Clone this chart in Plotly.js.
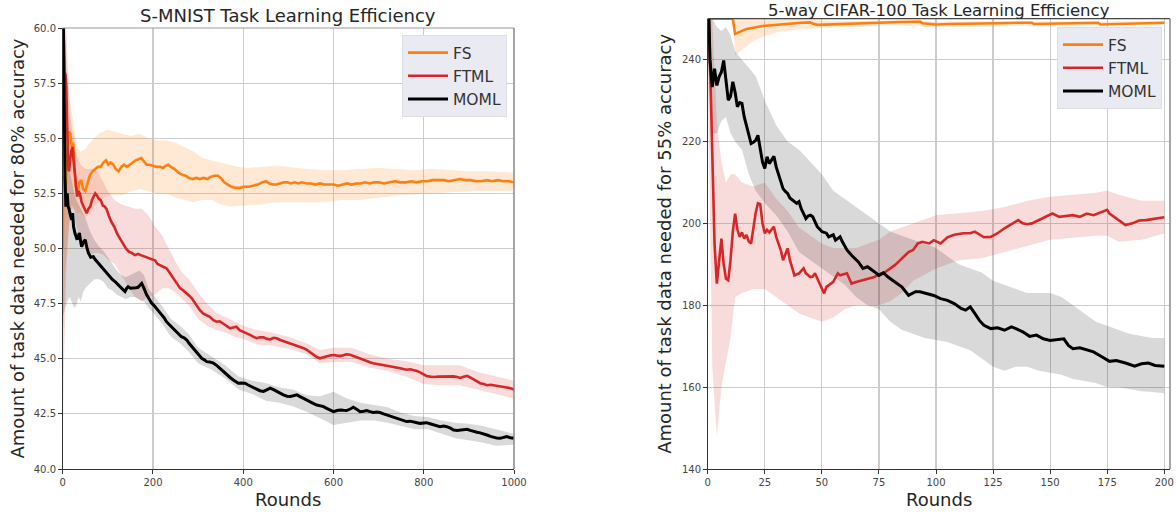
<!DOCTYPE html>
<html><head><meta charset="utf-8">
<script src="https://cdn.plot.ly/plotly-3.0.1.min.js"></script>
<style>html,body{margin:0;padding:0;background:#fff}#chart{width:1176px;height:512px}</style>
</head><body><div id="chart"></div>
<script>
// ---------- S-MNIST (left) ----------
const lfsX = [0,2,5,9,13,17,20,23,26,29,33,37,41,45,50,55,60,66,72,78,84,90,96,101,106,112,118,124,130,136,142,148,155,162,168,174,180,186,193,200,208,216,222,228,234,240,248,256,264,272,280,288,296,304,312,320,328,336,344,350,358,366,374,382,392,402,412,422,432,442,450,458,466,474,482,490,498,506,514,522,530,540,550,560,570,580,590,600,610,620,630,640,650,660,670,680,690,700,712,724,736,748,760,772,784,796,808,820,832,844,856,868,880,892,904,916,928,940,952,964,976,988,1000];
const lfsY = [50.0,53.3,52.2,53.8,55.3,55.2,54.6,54.8,53.6,52.8,52.5,53.0,53.1,52.7,52.6,52.9,53.3,53.5,53.6,53.7,53.7,53.9,54.0,53.8,53.9,53.8,53.6,53.5,53.7,53.8,53.7,53.8,53.9,54.0,54.05,54.1,53.95,53.8,53.8,53.75,53.7,53.7,53.65,53.75,53.8,53.7,53.6,53.45,53.35,53.3,53.2,53.15,53.2,53.15,53.2,53.15,53.25,53.3,53.3,53.2,53.0,52.9,52.8,52.75,52.75,52.8,52.8,52.85,52.9,53.0,53.05,52.95,52.9,52.9,52.95,53.0,53.0,52.95,53.0,52.95,53.0,52.95,52.95,52.9,52.95,52.9,52.9,52.9,52.85,52.9,52.95,52.9,52.95,52.95,53.0,52.95,53.0,53.0,52.95,53.0,53.05,53.0,53.0,53.05,53.0,53.05,53.05,53.1,53.1,53.1,53.05,53.1,53.15,53.1,53.1,53.05,53.05,53.1,53.05,53.1,53.05,53.05,53.0];
const lfsBX = [0,2,5,9,14,20,26,32,40,50,60,70,80,90,100,115,130,150,170,190,210,230,250,270,290,310,330,350,370,390,410,440,470,500,540,580,620,660,700,740,780,820,860,900,940,980,1000];
const lfsUp = [60.5,60.5,60,58,57,56.2,55.4,54.6,54.4,54.5,54.8,55.0,55.2,55.3,55.4,55.3,55.2,55.1,55.2,55.0,54.9,54.9,54.8,54.6,54.4,54.1,54.0,53.9,53.8,53.7,53.65,53.7,53.75,53.7,53.6,53.55,53.55,53.6,53.65,53.6,53.55,53.6,53.55,53.5,53.5,53.45,53.45];
const lfsLo = [47,47,49,50,51,51.8,51.8,51.6,51.6,51.4,51.6,51.9,52.1,52.3,52.4,52.4,52.4,52.6,52.7,52.6,52.5,52.5,52.3,52.2,52.1,52.2,52.2,52.0,51.9,51.9,51.95,52.0,52.1,52.1,52.1,52.1,52.2,52.2,52.3,52.4,52.45,52.5,52.55,52.6,52.6,52.6,52.6];

const lftX = [0,2,4,6,8,10,12,14,16,18,20,22,24,27,30,32,35,38,42,46,50,53,57,61,65,69,72,76,80,84,89,93,97,102,108,114,120,127,134,140,147,153,160,167,173,180,187,193,199,205,210,215,222,230,237,245,252,260,267,275,281,286,292,297,304,311,318,326,334,341,348,356,363,371,378,385,392,400,408,415,422,430,437,445,452,460,467,474,482,489,497,504,515,526,534,541,548,555,563,570,578,585,592,600,608,615,622,629,637,644,652,659,667,674,681,688,700,711,722,733,741,748,755,762,770,777,785,792,799,806,814,822,833,844,855,866,874,881,888,896,903,911,918,925,933,940,948,955,962,969,977,984,992,1000];
const lftY = [62,60.5,58.0,57.9,57.3,55.5,53.7,53.5,54.0,54.3,54.5,54.6,54.0,53.4,52.8,52.35,52.6,52.5,52.1,51.9,51.7,51.6,51.8,51.9,52.2,52.4,52.5,52.4,52.25,52.2,51.95,51.9,51.8,51.5,51.2,51.0,50.7,50.45,50.24,50.0,49.85,49.8,49.7,49.75,49.7,49.65,49.6,49.56,49.5,49.45,49.3,49.25,49.15,49.1,48.9,48.65,48.4,48.2,48.1,47.97,47.85,47.74,47.55,47.36,47.2,47.06,47.0,46.9,46.75,46.68,46.7,46.6,46.5,46.38,46.42,46.45,46.3,46.23,46.15,46.08,46.0,45.93,45.97,45.97,45.9,45.88,45.95,45.93,45.85,45.8,45.75,45.7,45.62,45.55,45.48,45.4,45.3,45.17,45.08,45.02,45.08,45.12,45.15,45.17,45.13,45.12,45.16,45.2,45.18,45.12,45.08,45.02,44.95,44.87,44.84,44.8,44.76,44.72,44.68,44.64,44.6,44.57,44.53,44.5,44.52,44.5,44.45,44.38,44.3,44.22,44.19,44.17,44.19,44.2,44.18,44.2,44.17,44.13,44.18,44.22,44.15,44.05,43.97,43.89,43.85,43.8,43.82,43.8,43.78,43.77,43.74,43.7,43.66,43.61];
const lftBX = [0,2,5,8,12,16,20,25,30,40,50,60,70,80,90,100,115,130,145,160,175,190,205,220,235,250,265,280,300,320,340,360,380,400,430,460,500,540,570,600,640,680,720,760,800,840,880,920,960,1000];
const lftUp = [62,62,62,60,58,56,55.5,55,54.3,53.8,53.6,53.6,53.6,53.4,53.0,52.6,52.2,52.0,51.9,51.8,51.8,51.5,51.0,50.6,50.0,49.4,48.9,48.6,48.0,47.5,47.1,46.9,46.7,46.5,46.3,46.2,46.0,45.7,45.4,45.5,45.5,45.2,45.0,44.9,44.7,44.7,44.7,44.4,44.2,44.0];
const lftLo = [40,44,47,49,50.5,51.5,52,51.8,51.0,50.5,50.0,49.7,49.8,49.8,49.7,49.5,49.3,48.8,48.3,47.8,47.6,47.8,47.9,48.2,48.2,48.0,47.7,47.4,46.8,46.5,46.3,46.2,46.0,45.9,45.65,45.6,45.45,45.2,44.8,44.85,44.85,44.6,44.45,44.2,43.85,43.8,43.8,43.6,43.4,43.2];

const lmoX = [0,1,2,3,4,5,7,9,10,12,14,16,18,20,22,24,27,30,32,35,37,40,42,46,50,54,57,62,68,72,76,80,85,90,95,100,105,110,116,121,127,132,138,142,145,150,156,162,167,171,175,180,186,192,197,203,208,214,219,225,230,236,241,247,252,258,263,269,275,280,286,292,297,303,308,314,319,326,334,341,348,356,363,371,378,384,389,396,404,410,415,422,430,437,445,452,460,467,474,482,489,497,504,511,519,526,533,541,548,555,563,570,578,585,592,600,608,615,622,629,637,644,652,659,667,674,681,688,696,703,711,718,726,733,741,748,755,762,770,777,785,792,799,806,814,822,829,836,844,851,859,866,874,881,888,896,903,911,918,925,933,940,948,955,962,969,977,984,992,1000];
const lmoY = [63,60,57.3,56.9,55.5,53.3,51.9,52.3,52.5,51.9,51.8,51.6,51.4,51.3,51.6,51.0,50.7,50.5,50.4,50.6,50.7,50.3,50.08,50.3,50.4,50.0,49.8,49.6,49.63,49.5,49.4,49.33,49.2,49.1,48.95,48.85,48.72,48.6,48.5,48.4,48.27,48.15,48.05,48.2,48.27,48.2,48.2,48.22,48.24,48.35,48.42,48.2,47.9,47.7,47.52,47.4,47.29,47.15,47.0,46.85,46.68,46.55,46.45,46.35,46.23,46.1,46.0,45.95,45.85,45.7,45.55,45.4,45.25,45.12,45.02,44.95,44.87,44.85,44.8,44.7,44.57,44.4,44.27,44.15,44.04,43.95,43.89,43.9,43.89,43.82,43.77,43.7,43.6,43.55,43.52,43.6,43.67,43.6,43.52,43.45,43.36,43.3,43.29,43.32,43.36,43.28,43.2,43.12,43.06,42.98,42.9,42.87,42.83,42.75,42.68,42.6,42.65,42.68,42.66,42.65,42.72,42.8,42.7,42.6,42.62,42.65,42.6,42.56,42.58,42.56,42.5,42.45,42.42,42.37,42.3,42.25,42.2,42.15,42.17,42.15,42.1,42.07,42.1,42.1,42.05,41.99,41.95,41.92,41.95,41.92,41.85,41.77,41.75,41.77,41.8,41.8,41.75,41.69,41.67,41.64,41.6,41.54,41.48,41.43,41.4,41.39,41.43,41.47,41.42,41.39];
const lmoBX = [0,2,5,8,12,16,20,25,30,35,40,45,50,55,60,70,80,90,100,110,120,130,140,150,160,170,180,190,200,220,240,260,280,300,330,360,390,420,450,480,510,540,570,600,630,660,690,720,750,780,810,840,870,900,930,960,1000];
const lmoUp = [63,60,57,55,54,53.5,53,52.5,52.2,52,51.8,51.6,51.4,51.1,50.8,50.4,50.1,49.9,49.6,49.3,49.0,48.8,48.7,48.8,48.9,49.0,48.8,48.2,47.9,47.4,46.8,46.5,46.1,45.5,45.1,44.7,44.2,44.0,43.9,43.7,43.6,43.35,43.3,43.5,43.2,43.0,42.9,42.8,42.55,42.4,42.35,42.2,42.1,42.05,41.95,41.8,41.6];
const lmoLo = [46,47,47.3,47.5,47.7,47.8,47.6,47.3,47.4,47.8,47.6,48.0,48.2,48.3,48.4,48.6,48.6,48.5,48.2,48.1,47.9,47.8,47.7,47.8,47.8,47.7,47.6,47.3,47.1,46.6,46.0,45.7,45.3,44.8,44.5,44.1,43.6,43.4,43.1,43.0,42.85,42.6,42.3,42.0,42.1,42.2,42.2,42.1,41.95,41.8,41.8,41.6,41.4,41.3,41.2,41.05,41.1];

// ---------- 5-way CIFAR-100 (right) ----------
const rfsX = [0,11,12,15,17,20,24,28,32,37,41,45,46,48,52,60,68,75,84,93,94,100,106,112,120,127,135,142,143,150,157,164,171,172,180,187,194,200];
const rfsY = [250,250,246.3,247.0,247.5,247.8,248.2,248.4,248.6,248.9,249.0,249.1,248.8,248.5,248.6,248.7,248.9,249.0,249.2,249.3,248.9,248.6,248.7,248.8,248.85,248.9,249.0,249.0,248.7,248.75,248.8,248.9,249.0,248.6,248.75,248.9,248.95,249.0];
const rfsBX = [0,11,12,15,20,25,30,40,50,60,80,100,150,200];
const rfsUp = [250,250,251,251,250.8,250.5,250.3,250,249.6,249.4,249.6,249.3,249.3,249.4];
const rfsLo = [250,250,241,242.5,244.5,245.8,246.6,247.5,247.8,248.0,248.4,248.0,248.3,248.6];

const rftX = [0,1,2,3,4,5,6,7,8,9,10,11,12,13,14,15,16,17,18,19,20,21,22,23,24,25,26,27,28,29,30,31,32,33,34,35,36,37,38,40,42,43,45,46,47,49,50,51,52,55,57,58,61,63,65,68,71,73,76,78,80,82,85,88,90,92,94,97,99,102,105,108,112,115,117,119,121,124,127,130,133,136,138,140,142,145,148,151,154,157,160,163,166,169,172,175,176,179,183,186,189,192,195,198,200];
const rftY = [262,240,215,195,185.3,191.8,196.3,190,186.5,186.1,191,198,202.4,198.5,196.7,197.8,196.3,197.2,195.6,195.1,199.2,202.5,204.9,204.7,200,197.6,198.4,197.8,198.5,199.2,196.7,195,193.5,191.0,192.5,193.9,191,189.4,187.3,187.8,189,187.8,186.9,187.0,187.8,185.3,184,182.9,184.5,185.7,187.8,187.3,187.8,185.3,185.7,186.1,186.5,186.9,187.8,188.2,189,189.8,191.4,193,193.5,195.1,195.5,195.1,195.9,195.1,196.6,197.2,197.6,197.6,198.0,197.2,196.6,196.7,197.6,198.8,199.8,200.8,200,199.8,200,200.8,201.6,202.4,201.6,201.8,202,201.6,202.4,202,202.6,203.3,202.4,201.2,199.6,200,200.7,200.8,201,201.2,201.5];
const rftBX = [0,2,4,6,8,10,12,15,20,25,30,35,40,45,50,55,60,65,70,75,80,85,90,100,110,120,130,140,150,160,170,175,180,190,200];
const rftUp = [262,250,225,215,210,212,212,210,209,210,206,203,199,197,195,194,194,194,195,196,198,199,200,202,202.5,203,204,205.5,206.5,207,207.5,208,207,205.5,205.5];
const rftLo = [240,165,148,160,166,172,182,183,184,184,182,180,178,177,176,177,179,180,180,180,181,183,186,189,191,191.5,193,194.5,196,196.5,197,197,195.5,196,197.5];

const rmoX = [0,1,2,3,4,5,6,7,8,9,10,11,12,13,14,15,16,17,18,19,20,21,22,23,24,25,26,27,28,29,30,31,32,33,34,35,36,37,38,39,40,41,42,43,44,45,46,47,48,50,52,53,55,56,58,59,61,63,66,68,70,73,75,77,79,82,85,88,91,93,96,99,102,105,108,111,113,115,117,119,121,124,127,130,133,135,138,141,144,147,150,153,156,158,160,163,166,169,173,176,179,183,187,190,193,196,200];
const rmoY = [262,240,233.3,237.8,233.7,235.8,237,239.8,235,230.1,231,234.6,232,228.5,229.5,229.3,226,224,222,219.5,219.8,220.3,221.5,218.7,215,213.4,216.3,214.6,215.5,216.4,213.8,212,210,208.5,207.8,207.3,206.2,205.7,205.2,204.9,205.3,203.5,202.4,201.2,201.8,202,201.6,200.5,199.2,198,197.6,196.7,197.2,195.9,196.7,195.5,193.5,192.2,190.6,189,189.4,188.2,187.3,187.9,186.9,185.7,184.5,182.4,183.3,183.3,182.9,182.4,181.6,181.2,180.4,179.2,178.8,179.6,178,176.3,175.1,174.3,174.5,173.9,174.7,174.3,173.5,172.4,172.7,171.8,171.4,171.6,171.8,170.2,169.4,169.6,169.1,168.6,167.3,166.3,166.5,165.9,165.1,165.7,165.9,165.3,165.1];
const rmoBX = [0,2,4,6,8,10,12,15,18,21,25,30,35,40,45,50,55,60,65,70,75,80,85,90,95,100,105,110,115,120,125,130,135,140,145,150,155,160,165,170,175,180,185,190,195,200];
const rmoUp = [262,250,248,247,248,246,242,240,238,236,230,224,220,218,215,212,208,206,204,202,200,198,197,196,195,194,192,190,189,188,186,185,184,183,183,183,182,180,178,176,175,174,173,172.5,172,172];
const rmoLo = [240,222,222,225,226,222,220,218,212,208,205,202,198,193,191,189,187,185,182,180,179,176,174,173,172,171.5,171,170,169,167,165,164,165,165,164,163.5,163,162,161.5,161,160,160,159.5,159,158.8,158.5];

const seriesNames = ['FS', 'FTML', 'MOML'];
const yTitles = ['Amount of task data needed for 80% accuracy', 'Amount of task data needed for 55% accuracy'];
const chartTitles = ['S-MNIST Task Learning Efficiency', '5-way CIFAR-100 Task Learning Efficiency'];

// ---------- build ----------
const FONT = 'DejaVu Sans, Verdana, sans-serif';
const lineColors = ['#ff7f0e', '#d62728', '#000000'];
const bandColors = ['rgba(255,127,14,0.18)', 'rgba(214,39,40,0.16)', 'rgba(0,0,0,0.15)'];

function trim(x, y) { const n = Math.min(x.length, y.length); return [x.slice(0, n), y.slice(0, n)]; }
function band(bx, up, lo, color, xa, ya) {
  const n = Math.min(bx.length, up.length, lo.length);
  const X = bx.slice(0, n), U = up.slice(0, n), L = lo.slice(0, n);
  return { x: X.concat(X.slice().reverse()), y: U.concat(L.slice().reverse()), xaxis: xa, yaxis: ya,
    type: 'scatter', mode: 'lines', fill: 'toself', fillcolor: color, line: { width: 0, color: 'rgba(0,0,0,0)' },
    hoverinfo: 'skip', showlegend: false };
}
function line(x, y, i, xa, ya, leg) {
  const t = trim(x, y);
  return { x: t[0], y: t[1], xaxis: xa, yaxis: ya, type: 'scatter', mode: 'lines', name: seriesNames[i],
    line: { color: lineColors[i], width: i === 2 ? 3 : 2.6 }, legend: leg, hoverinfo: 'skip' };
}

const traces = [
  band(lfsBX, lfsUp, lfsLo, bandColors[0], 'x', 'y'),
  band(lftBX, lftUp, lftLo, bandColors[1], 'x', 'y'),
  band(lmoBX, lmoUp, lmoLo, bandColors[2], 'x', 'y'),
  line(lfsX, lfsY, 0, 'x', 'y', 'legend'),
  line(lftX, lftY, 1, 'x', 'y', 'legend'),
  line(lmoX, lmoY, 2, 'x', 'y', 'legend'),
  band(rfsBX, rfsUp, rfsLo, bandColors[0], 'x2', 'y2'),
  band(rftBX, rftUp, rftLo, bandColors[1], 'x2', 'y2'),
  band(rmoBX, rmoUp, rmoLo, bandColors[2], 'x2', 'y2'),
  line(rfsX, rfsY, 0, 'x2', 'y2', 'legend2'),
  line(rftX, rftY, 1, 'x2', 'y2', 'legend2'),
  line(rmoX, rmoY, 2, 'x2', 'y2', 'legend2')
];

const W = 1176, H = 512;
const px = v => v / W, py = v => (H - v) / H;
const L = { x0: 62.7, x1: 514, yt: 28, yb: 469 };
const R = { x0: 707.7, x1: 1170, yt: 18.7, yb: 469 };

const axBase = {
  showgrid: true, gridcolor: '#cccccc', gridwidth: 1.2, zeroline: false,
  showline: true, linecolor: '#333333', linewidth: 1.2,
  ticks: 'outside', ticklen: 3.5, tickwidth: 1, tickcolor: '#333333',
  tickfont: { family: FONT, size: 10, color: '#444444' }, fixedrange: true
};
const legBase = {
  bgcolor: '#eaeaf2', bordercolor: '#dddde6', borderwidth: 1,
  font: { family: FONT, size: 15.5, color: '#333333' }, itemwidth: 40,
  xanchor: 'right', yanchor: 'top', tracegroupgap: 0
};

const layout = {
  width: W, height: H, margin: { l: 0, r: 0, t: 0, b: 0 },
  paper_bgcolor: '#ffffff', plot_bgcolor: '#ffffff',
  font: { family: FONT },
  xaxis: Object.assign({}, axBase, { domain: [px(L.x0), px(L.x1)], range: [0, 1000], dtick: 200, tick0: 0, anchor: 'y' }),
  yaxis: Object.assign({}, axBase, { domain: [py(L.yb), py(L.yt)], range: [40, 60], dtick: 2.5, tick0: 40, tickformat: '.1f', anchor: 'x' }),
  xaxis2: Object.assign({}, axBase, { domain: [px(R.x0), px(R.x1)], range: [0, 202.5], dtick: 25, tick0: 0, anchor: 'y2' }),
  yaxis2: Object.assign({}, axBase, { domain: [py(R.yb), py(R.yt)], range: [140, 250], dtick: 20, tick0: 140, anchor: 'x2' }),
  legend: Object.assign({}, legBase, { x: px(507), y: py(35) }),
  legend2: Object.assign({}, legBase, { x: px(1162), y: py(27) }),
  shapes: [
    { type: 'line', xref: 'paper', yref: 'paper', x0: px(L.x0), x1: px(L.x1), y0: py(L.yt), y1: py(L.yt), line: { color: '#999999', width: 1.2 } },
    { type: 'line', xref: 'paper', yref: 'paper', x0: px(L.x1), x1: px(L.x1), y0: py(L.yb), y1: py(L.yt), line: { color: '#888888', width: 1.5 } },
    { type: 'line', xref: 'paper', yref: 'paper', x0: px(R.x0), x1: px(R.x1), y0: py(R.yt), y1: py(R.yt), line: { color: '#444444', width: 1.2 } },
    { type: 'line', xref: 'paper', yref: 'paper', x0: px(R.x1), x1: px(R.x1), y0: py(R.yb), y1: py(R.yt), line: { color: '#888888', width: 1.5 } }
  ],
  annotations: [
    { text: chartTitles[0], xref: 'paper', yref: 'paper', x: px((L.x0 + L.x1) / 2), y: py(15), xanchor: 'center', yanchor: 'middle', showarrow: false, font: { family: FONT, size: 18, color: '#262626' } },
    { text: chartTitles[1], xref: 'paper', yref: 'paper', x: px((R.x0 + R.x1) / 2), y: 1, xanchor: 'center', yanchor: 'top', borderpad: 0, showarrow: false, font: { family: FONT, size: 16.5, color: '#262626' } },
    { text: yTitles[0], xref: 'paper', yref: 'paper', x: px(17), y: py((L.yt + L.yb) / 2), textangle: -90, xanchor: 'center', yanchor: 'middle', showarrow: false, font: { family: FONT, size: 18, color: '#262626' } },
    { text: yTitles[1], xref: 'paper', yref: 'paper', x: px(665), y: py((R.yt + R.yb) / 2), textangle: -90, xanchor: 'center', yanchor: 'middle', showarrow: false, font: { family: FONT, size: 18, color: '#262626' } },
    { text: 'Rounds', xref: 'paper', yref: 'paper', x: px((L.x0 + L.x1) / 2), y: py(499), xanchor: 'center', yanchor: 'middle', showarrow: false, font: { family: FONT, size: 18, color: '#262626' } },
    { text: 'Rounds', xref: 'paper', yref: 'paper', x: px((R.x0 + R.x1) / 2), y: py(499), xanchor: 'center', yanchor: 'middle', showarrow: false, font: { family: FONT, size: 18, color: '#262626' } }
  ]
};

Plotly.newPlot('chart', traces, layout, { staticPlot: true, displayModeBar: false });
</script></body></html>
